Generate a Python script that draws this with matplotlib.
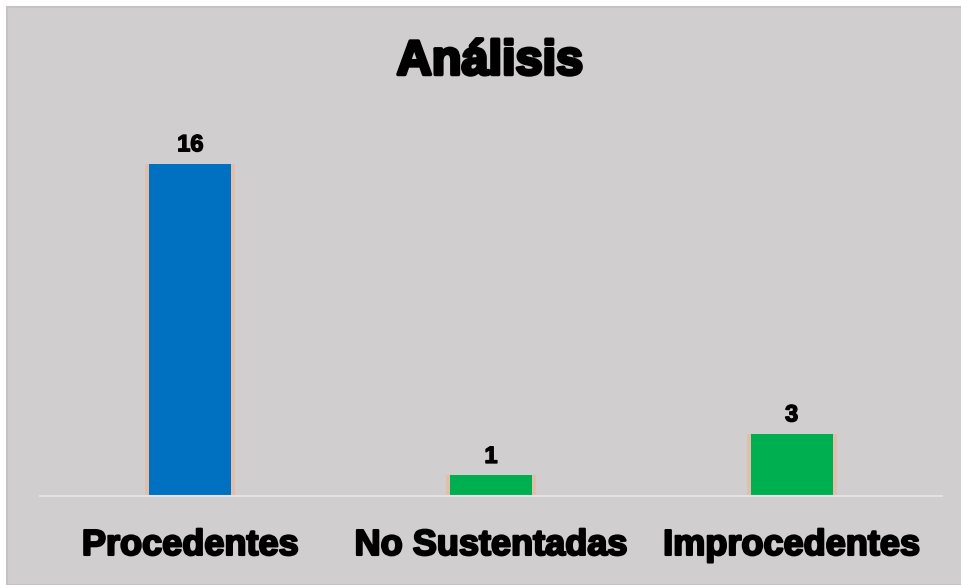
import matplotlib.pyplot as plt
import matplotlib.patheffects as pe
from matplotlib.patches import Rectangle

categories = ["Procedentes", "No Sustentadas", "Improcedentes"]
values = [16, 1, 3]
colors = ["#0070c0", "#00b050", "#00b050"]

plt.rcParams['font.family'] = ['Liberation Sans', 'DejaVu Sans']

W, H = 961, 585
fig = plt.figure(figsize=(W / 100, H / 100), dpi=100)
fig.patch.set_facecolor("white")

# gray chart panel
fig.patches.append(Rectangle((7 / W, 0), 1, 1 - 7 / H, transform=fig.transFigure,
                             facecolor="#d0cece", edgecolor="#c4c2c2", lw=1.5, zorder=-5))

ax = fig.add_axes([40 / W, 1 - 496 / H, 902 / W, (496 - 122) / H])
ax.set_facecolor("none")
ax.set_zorder(2)

heavy = lambda w: [pe.withStroke(linewidth=w, foreground="black")]

x = range(len(categories))
# soft orange glow behind the bars
ax.bar(x, values, width=0.30, color="#f4b183", alpha=0.45, zorder=1)
ax.bar(x, values, width=0.272, color=colors, zorder=2)

for i, v in enumerate(values):
    ax.text(i, v + 0.35, str(v), ha="center", va="bottom", fontsize=17,
            fontweight="bold", color="black", zorder=3, path_effects=heavy(1.0))

ax.set_xlim(-0.5, 2.5)
ax.set_ylim(0, 18)
ax.set_yticks([])
ax.set_xticks(list(x))
ax.set_xticklabels(categories, fontsize=26, fontweight="bold")
for t in ax.get_xticklabels():
    t.set_path_effects(heavy(1.6))
ax.tick_params(axis="x", length=0, pad=23)
for s in ["top", "left", "right"]:
    ax.spines[s].set_visible(False)
ax.spines["bottom"].set_color("#e3e1e1")
ax.spines["bottom"].set_linewidth(1.5)

fig.text(490 / W, 1 - 62 / H, "Análisis", ha="center", va="center",
         fontsize=35, fontweight="bold", color="black", path_effects=heavy(2.5))

fig.savefig("out.png", dpi=100)
